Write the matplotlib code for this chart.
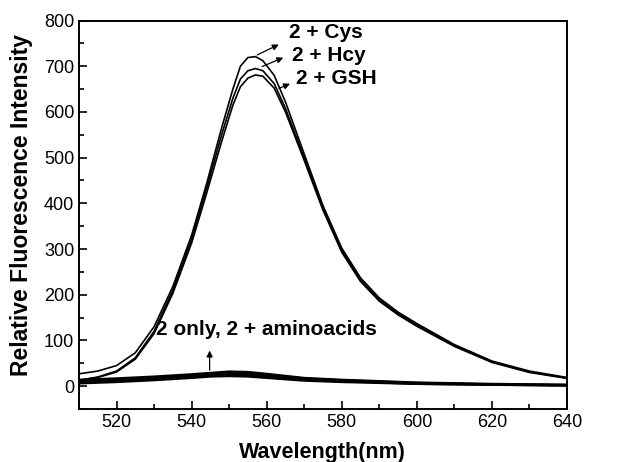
import matplotlib
matplotlib.use('Agg')
import matplotlib.pyplot as plt
from matplotlib.ticker import MultipleLocator

plt.rcParams['font.family'] = ['Liberation Sans', 'DejaVu Sans']

# probe + thiols
wl_hi = [510, 515, 520, 525, 530, 535, 540, 544, 548, 551, 553, 555, 557, 559,
         562, 565, 570, 575, 580, 585, 590, 595, 600, 610, 620, 630, 640]
cys = [27, 33, 45, 73, 130, 218, 330, 443, 565, 650, 700, 719, 721, 712,
       680, 622, 508, 395, 302, 237, 193, 162, 137, 91, 55, 33, 19]
hcy = [13, 20, 33, 62, 120, 210, 322, 433, 550, 630, 672, 690, 695, 690,
       662, 608, 500, 389, 297, 232, 189, 159, 134, 89, 53, 31, 18]
gsh = [12, 19, 31, 59, 115, 203, 313, 422, 535, 615, 655, 674, 681, 678,
       652, 600, 494, 385, 293, 229, 186, 156, 131, 87, 52, 30, 17]

# probe only / other amino acids
wl_lo = [510, 520, 530, 540, 545, 550, 555, 560, 570, 580, 590, 600, 620, 640]
low_curves = [
    [14, 17, 21, 26, 29, 32, 31, 27, 18, 14, 11, 8, 5, 3],
    [12, 15, 19, 24, 27, 29, 28, 24, 17, 13, 10, 7, 4, 3],
    [10, 13, 17, 22, 25, 27, 26, 22, 15, 12, 9, 6, 4, 2],
    [8, 11, 15, 20, 23, 24, 23, 20, 14, 11, 8, 5, 3, 2],
    [6, 9, 13, 18, 21, 22, 21, 18, 12, 9, 7, 5, 3, 1],
]

fig = plt.figure(figsize=(6.21, 4.62), dpi=100)
ax = fig.add_axes([0.1272, 0.1147, 0.7858, 0.8409])

for vals in low_curves:
    ax.plot(wl_lo, vals, color='black', lw=1.6)
ax.plot(wl_hi, cys, color='black', lw=1.2)
ax.plot(wl_hi, hcy, color='black', lw=1.2)
ax.plot(wl_hi, gsh, color='black', lw=1.2)

ax.set_xlim(510, 640)
ax.set_ylim(-50, 800)
ax.xaxis.set_major_locator(MultipleLocator(20))
ax.xaxis.set_minor_locator(MultipleLocator(10))
ax.yaxis.set_major_locator(MultipleLocator(100))
ax.yaxis.set_minor_locator(MultipleLocator(50))
ax.tick_params(which='both', direction='in', labelsize=13, width=1.2)
ax.tick_params(which='major', length=6)
ax.tick_params(which='minor', length=3.5)
ax.set_yticks([0, 100, 200, 300, 400, 500, 600, 700, 800])
for s in ax.spines.values():
    s.set_linewidth(1.4)

ax.set_xlabel('Wavelength(nm)', fontsize=15.5, fontweight='bold')
ax.set_ylabel('Relative Fluorescence Intensity', fontsize=16.5, fontweight='bold')
ax.xaxis.set_label_coords(0.498, -0.085)
ax.yaxis.set_label_coords(-0.094, 0.525)

lab = dict(fontsize=15, fontweight='bold', va='baseline', ha='left')
ax.text(566, 761, '2 + Cys', **lab)
ax.text(566.7, 711, '2 + Hcy', **lab)
ax.text(567.9, 662, '2 + GSH', **lab)
ax.text(530.6, 112, '2 only, 2 + aminoacids', **lab)

arr = dict(arrowstyle='-|>', color='black', lw=0.9, mutation_scale=9)
ax.annotate('', xy=(563.9, 750), xytext=(556.8, 722), arrowprops=arr)
ax.annotate('', xy=(565.1, 721), xytext=(558.1, 697), arrowprops=arr)
ax.annotate('', xy=(566.9, 664), xytext=(562.6, 649), arrowprops=arr)
ax.annotate('', xy=(544.8, 84), xytext=(544.8, 29), arrowprops=arr)

fig.savefig('out.png', dpi=100)
